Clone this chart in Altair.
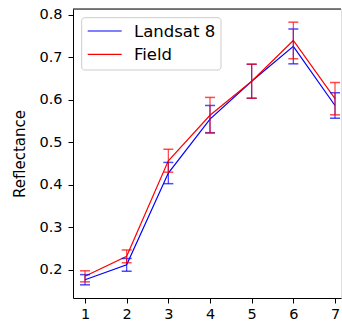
import altair as alt
import pandas as pd

bands = [1, 2, 3, 4, 5, 6, 7]
landsat = [0.177, 0.212, 0.428, 0.555, 0.644, 0.726, 0.587]
landsat_err = [0.012, 0.015, 0.025, 0.032, 0.040, 0.041, 0.030]
field = [0.185, 0.232, 0.457, 0.564, 0.644, 0.740, 0.603]
field_err = [0.013, 0.015, 0.027, 0.042, 0.040, 0.043, 0.038]
series = ["Landsat 8", "Field"]
colors = ["#0000ff", "#ff0000"]
yticks = [0.2, 0.3, 0.4, 0.5, 0.6, 0.7, 0.8]

rows = []
for name, vals, errs in [(series[0], landsat, landsat_err), (series[1], field, field_err)]:
    for b, v, e in zip(bands, vals, errs):
        rows.append({"band": b, "series": name, "value": v, "err": e})
df = pd.DataFrame(rows)

W, H = 268, 289
xs = alt.Scale(domain=[0.712, 7.144], nice=False, zero=False)
ys = alt.Scale(domain=[0.134, 0.814], nice=False, zero=False)

base = alt.Chart(df)

lines = base.mark_line(strokeWidth=1.2).encode(
    x=alt.X("band:Q", scale=xs,
            axis=alt.Axis(values=bands, format="d", title=None, grid=False,
                          tickSize=5, labelPadding=4, labelFontSize=14.5,
                          domainColor="black", tickColor="black", labelColor="black")),
    y=alt.Y("value:Q", scale=ys,
            axis=alt.Axis(values=yticks, format=".1f",
                          title="Reflectance", grid=False, tickSize=5, labelPadding=6,
                          labelFontSize=14.5, titleFontSize=15, titleFontWeight="normal",
                          titlePadding=11, domainColor="black", tickColor="black",
                          labelColor="black", titleColor="black")),
    color=alt.Color("series:N", scale=alt.Scale(domain=series, range=colors), legend=None),
    order=alt.Order("o:Q"),
).transform_calculate(o="datum.series == 'Field' ? 1 : 0")

err_layers = []
for name, col in zip(series, colors):
    sub = base.transform_filter(alt.datum.series == name).transform_calculate(
        lo="datum.value - datum.err", hi="datum.value + datum.err")
    err_layers.append(sub.mark_rule(strokeWidth=1.2, opacity=0.75, color=col).encode(
        x="band:Q", y="lo:Q", y2="hi:Q"))
    err_layers.append(sub.mark_tick(orient="horizontal", size=10, thickness=1.5, color=col).encode(
        x="band:Q", y="lo:Q"))
    err_layers.append(sub.mark_tick(orient="horizontal", size=10, thickness=1.5, color=col).encode(
        x="band:Q", y="hi:Q"))

one = alt.Chart(pd.DataFrame({"a": [0]}))
top_spine = one.mark_rule(color="black", strokeWidth=1).encode(
    x=alt.value(0), x2=alt.value(W), y=alt.value(0))

legend_box = one.mark_rect(fill="white", fillOpacity=0.8, stroke="#cccccc",
                           strokeWidth=1, cornerRadius=3).encode(
    x=alt.value(8.7), x2=alt.value(148), y=alt.value(8.7), y2=alt.value(61))
legend_layers = [legend_box]
for i, (name, col) in enumerate(zip(series, colors)):
    yy = 22 + i * 23.3
    legend_layers.append(one.mark_rule(color=col, strokeWidth=1.2).encode(
        x=alt.value(14.7), x2=alt.value(48.7), y=alt.value(yy)))
    legend_layers.append(one.mark_text(align="left", baseline="middle", fontSize=16.5,
                                       color="black").encode(
        x=alt.value(61), y=alt.value(yy + 0.5), text=alt.value(name)))

chart = alt.layer(lines, *err_layers, top_spine, *legend_layers).properties(
    width=W, height=H,
    autosize=alt.AutoSizeParams(type="none"),
    padding={"left": 73, "top": 9, "right": 1, "bottom": 25},
).configure_view(stroke=None).configure(font="DejaVu Sans")

chart.save("out.html", embed_options={"renderer": "svg", "actions": False})
